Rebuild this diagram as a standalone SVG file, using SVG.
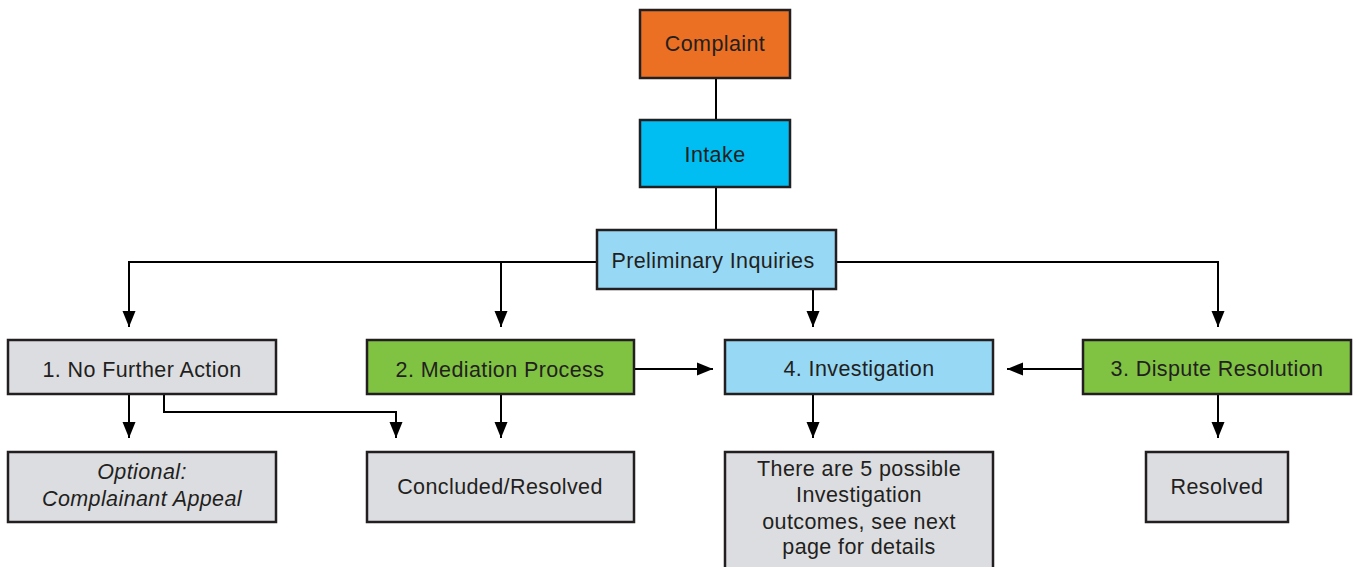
<svg xmlns="http://www.w3.org/2000/svg" width="1353" height="567" viewBox="0 0 1353 567">
<defs>
<style>
.box{stroke:#231f20;stroke-width:2.5}
.gray{fill:#dcdde0}
.green{fill:#80c342}
.lblue{fill:#97d9f5}
.cyan{fill:#00bdf2}
.orange{fill:#eb7023}
.t{font-family:"Liberation Sans",Arial,sans-serif;font-size:21.5px;letter-spacing:0.4px;fill:#231f20;text-anchor:middle}
.i{font-style:italic}
.c{fill:none;stroke:#000;stroke-width:2}
</style>
<marker id="ah" markerUnits="userSpaceOnUse" markerWidth="17" markerHeight="14" viewBox="0 0 17 14" refX="16" refY="7" orient="auto">
<path d="M0,0.5 L16,7 L0,13.5 Z" fill="#000"/>
</marker>
</defs>
<rect width="1353" height="567" fill="#fff"/>
<g id="connectors">
<path class="c" d="M716,78 V120"/>
<path class="c" d="M716,187 V230"/>
<path class="c" d="M597,262 H129 V327" marker-end="url(#ah)"/>
<path class="c" d="M501,262 V327" marker-end="url(#ah)"/>
<path class="c" d="M836,262 H1218 V327" marker-end="url(#ah)"/>
<path class="c" d="M813,290 V327" marker-end="url(#ah)"/>
<path class="c" d="M129,394 V438" marker-end="url(#ah)"/>
<path class="c" d="M164,394 V412 H396 V438" marker-end="url(#ah)"/>
<path class="c" d="M501,394 V438" marker-end="url(#ah)"/>
<path class="c" d="M634,369 H713" marker-end="url(#ah)"/>
<path class="c" d="M1083,369 H1007" marker-end="url(#ah)"/>
<path class="c" d="M813,394 V438" marker-end="url(#ah)"/>
<path class="c" d="M1218,394 V438" marker-end="url(#ah)"/>
</g>
<g id="complaint"><rect class="box orange" x="640" y="10" width="150" height="68"/><text class="t" x="715" y="51">Complaint</text></g>
<g id="intake"><rect class="box cyan" x="640" y="120" width="150" height="67"/><text class="t" x="715" y="162">Intake</text></g>
<g id="preliminary"><rect class="box lblue" x="597" y="230" width="239" height="59"/><text class="t" x="713" y="268">Preliminary Inquiries</text></g>
<g id="nfa"><rect class="box gray" x="8" y="340" width="268" height="54"/><text class="t" x="142" y="377">1. No Further Action</text></g>
<g id="mediation"><rect class="box green" x="367" y="340" width="267" height="54"/><text class="t" x="500" y="377">2. Mediation Process</text></g>
<g id="investigation"><rect class="box lblue" x="725" y="340" width="268" height="54"/><text class="t" x="859" y="376">4. Investigation</text></g>
<g id="dispute"><rect class="box green" x="1083" y="340" width="268" height="54"/><text class="t" x="1217" y="376">3. Dispute Resolution</text></g>
<g id="appeal"><rect class="box gray" x="8" y="452" width="268" height="70"/><text class="t i" x="142" y="479">Optional:</text><text class="t i" x="142" y="506">Complainant Appeal</text></g>
<g id="concluded"><rect class="box gray" x="367" y="452" width="267" height="70"/><text class="t" x="500" y="494">Concluded/Resolved</text></g>
<g id="outcomes"><rect class="box gray" x="725" y="452" width="268" height="125"/><text class="t" x="859" y="476">There are 5 possible</text><text class="t" x="859" y="502">Investigation</text><text class="t" x="859" y="529">outcomes, see next</text><text class="t" x="859" y="554">page for details</text></g>
<g id="resolved"><rect class="box gray" x="1146" y="452" width="142" height="70"/><text class="t" x="1217" y="494">Resolved</text></g>
</svg>
